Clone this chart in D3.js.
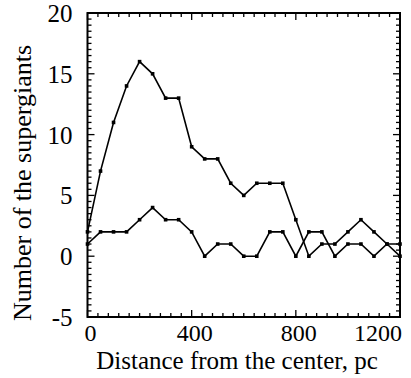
<!DOCTYPE html>
<html>
<head>
<meta charset="utf-8">
<script src="https://cdn.jsdelivr.net/npm/d3@7"></script>
</head>
<body style="margin:0">
<script>
// distances, pc (one point every 50 pc)
const DISTANCES = [0, 50, 100, 150, 200, 250, 300, 350, 400, 450, 500, 550, 600,
    650, 700, 750, 800, 850, 900, 950, 1000, 1050, 1100, 1150, 1200];

// upper curve
const UPPER_COUNTS = [2, 7, 11, 14, 16, 15, 13, 13, 9, 8, 8, 6, 5,
    6, 6, 6, 3, 0, 1, 1, 2, 3, 2, 1, 0];

// lower curve
const LOWER_COUNTS = [1, 2, 2, 2, 3, 4, 3, 3, 2, 0, 1, 1, 0,
    0, 2, 2, 0, 2, 2, 0, 1, 1, 0, 1, 1];

const X_TICKS = [0, 400, 800, 1200];
const Y_TICKS = [-5, 0, 5, 10, 15, 20];

const SERIF = '"Liberation Serif", "Times New Roman", serif';

function drawChart() {
    const width = 411, height = 378;
    const margin = { left: 87.5, right: 11, top: 13, bottom: 61 };

    const svg = d3.select("body")
        .append("svg")
        .attr("width", width)
        .attr("height", height)
        .style("font-family", SERIF);

    // scales
    const x = d3.scaleLinear().domain([0, 1200]).range([margin.left, width - margin.right]);
    const y = d3.scaleLinear().domain([-5, 20]).range([height - margin.bottom, margin.top]);

    // minor / major ticks, pointing inwards on all four sides
    const yMinor = d3.range(-5, 20.01, 0.5);
    const xMinor = d3.range(0, 1200.1, 40);
    const yLen = v => (v % 5 === 0 ? 7 : 4);
    const xLen = v => (v % 400 === 0 ? 7 : 4);

    const ticks = svg.append("g").attr("stroke", "#000").attr("stroke-width", 1.3);
    ticks.selectAll("line.yl").data(yMinor).enter().append("line")
        .attr("x1", x(0)).attr("x2", d => x(0) + yLen(d))
        .attr("y1", d => y(d)).attr("y2", d => y(d));
    ticks.selectAll("line.yr").data(yMinor).enter().append("line")
        .attr("x1", x(1200)).attr("x2", d => x(1200) - yLen(d))
        .attr("y1", d => y(d)).attr("y2", d => y(d));
    ticks.selectAll("line.xb").data(xMinor).enter().append("line")
        .attr("x1", d => x(d)).attr("x2", d => x(d))
        .attr("y1", y(-5)).attr("y2", d => y(-5) - xLen(d));
    ticks.selectAll("line.xt").data(xMinor).enter().append("line")
        .attr("x1", d => x(d)).attr("x2", d => x(d))
        .attr("y1", y(20)).attr("y2", d => y(20) + xLen(d));

    // frame
    svg.append("rect")
        .attr("x", x(0))
        .attr("y", y(20))
        .attr("width", x(1200) - x(0))
        .attr("height", y(-5) - y(20))
        .attr("fill", "none")
        .attr("stroke", "#000")
        .attr("stroke-width", 2);

    // y tick labels
    svg.selectAll("text.ylab")
        .data(Y_TICKS)
        .enter()
        .append("text")
        .attr("x", x(0) - 15)
        .attr("y", d => y(d) + 9)
        .attr("text-anchor", "end")
        .style("font-family", SERIF)
        .attr("font-size", "25px")
        .text(d => d);

    // x tick labels
    svg.selectAll("text.xlab")
        .data(X_TICKS)
        .enter()
        .append("text")
        .attr("x", d => (d === 1200 ? x(d) + 2 : x(d) + 3))
        .attr("y", y(-5) + 24)
        .attr("text-anchor", d => (d === 1200 ? "end" : "middle"))
        .style("font-family", SERIF)
        .attr("font-size", "24px")
        .text(d => d);

    // axis titles
    svg.append("text")
        .attr("x", 237)
        .attr("y", 369)
        .attr("text-anchor", "middle")
        .style("font-family", SERIF)
        .attr("font-size", "25px")
        .text("Distance from the center, pc");

    svg.append("text")
        .attr("transform", "translate(31,183) rotate(-90)")
        .attr("text-anchor", "middle")
        .style("font-family", SERIF)
        .attr("font-size", "26px")
        .text("Number of the supergiants");

    // curves
    const line = d3.line()
        .x(d => x(d[0]))
        .y(d => y(d[1]));

    [UPPER_COUNTS, LOWER_COUNTS].forEach(counts => {
        const pts = DISTANCES.map((dist, i) => [dist, counts[i]]);
        svg.append("path")
            .datum(pts)
            .attr("d", line)
            .attr("fill", "none")
            .attr("stroke", "#000")
            .attr("stroke-width", 1.6);
        svg.append("g")
            .selectAll("rect")
            .data(pts)
            .enter()
            .append("rect")
            .attr("x", d => x(d[0]) - 1.8)
            .attr("y", d => y(d[1]) - 1.8)
            .attr("width", 3.6)
            .attr("height", 3.6)
            .attr("fill", "#000");
    });
}

drawChart();
</script>
</body>
</html>
